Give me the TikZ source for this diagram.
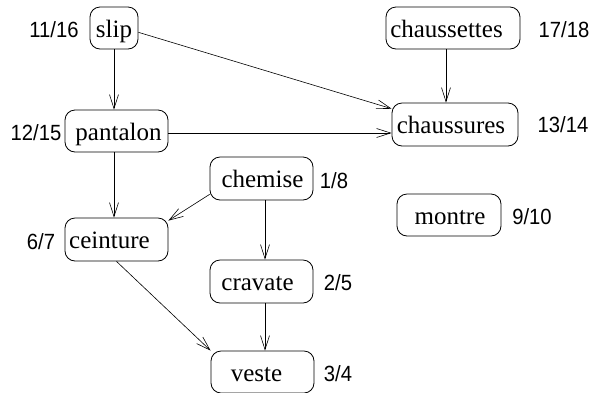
\documentclass[tikz,border=0pt]{standalone}
\usepackage{fontspec}
\setmainfont{Liberation Serif}
\newfontfamily\numfont{Liberation Sans}
\usetikzlibrary{arrows.meta}

\tikzset{
  garment/.style={draw, line width=0.8pt, rounded corners=10pt, inner sep=0pt},
  word/.style={font=\fontsize{25}{28}\selectfont, anchor=base, inner sep=0pt},
  stamp/.style={font=\numfont\fontsize{22}{25}\selectfont, anchor=base, inner sep=0pt},
  dep/.style={line width=0.6pt, -{Straight Barb[length=14pt, width=9pt, line width=0.6pt]}},
}
\newcommand{\narrow}[1]{\scalebox{0.92}[1]{#1}}

\begin{document}
\begin{tikzpicture}[x=1pt, y=-1pt]
  \useasboundingbox (0,0) rectangle (589,392);

  % boxes
  \node[garment, minimum width=48pt, minimum height=42pt]  (slip)        at (114,28)    {};
  \node[garment, minimum width=103pt, minimum height=42pt] (pantalon)    at (116.5,131) {};
  \node[garment, minimum width=134pt, minimum height=42pt] (chaussettes) at (453,28)    {};
  \node[garment, minimum width=126pt, minimum height=43pt] (chaussures)  at (455,124.5) {};
  \node[garment, minimum width=103pt, minimum height=43pt] (chemise)     at (261.5,178.5) {};
  \node[garment, minimum width=103pt, minimum height=43pt] (ceinture)    at (116.5,239.5) {};
  \node[garment, minimum width=103pt, minimum height=43pt] (cravate)     at (261.5,281.5) {};
  \node[garment, minimum width=103pt, minimum height=42pt] (veste)       at (262.5,372) {};
  \node[garment, minimum width=104pt, minimum height=42pt] (montre)      at (449,215)   {};

  % box texts
  \node[word] (t-slip)        at (114,37)     {slip};
  \node[word] (t-pantalon)    at (118.5,140)  {pantalon};
  \node[word] (t-chaussettes) at (446.5,37)   {chaussettes};
  \node[word] (t-chaussures)  at (451,133)    {chaussures};
  \node[word] (t-chemise)     at (262.5,187.5) {chemise};
  \node[word] (t-ceinture)    at (109.5,248.5) {ceinture};
  \node[word] (t-cravate)     at (257.5,290.5) {cravate};
  \node[word] (t-veste)       at (256.5,381)  {veste};
  \node[word] (t-montre)      at (450,224)    {montre};

  % discovery / finishing times
  \node[stamp] (n-slip)        at (54,37)   {\narrow{11/16}};
  \node[stamp] (n-pantalon)    at (36,140)  {\narrow{12/15}};
  \node[stamp] (n-chaussettes) at (564,37)  {\narrow{17/18}};
  \node[stamp] (n-chaussures)  at (563,132) {\narrow{13/14}};
  \node[stamp] (n-chemise)     at (334,188) {\narrow{1/8}};
  \node[stamp] (n-ceinture)    at (41,249)  {\narrow{6/7}};
  \node[stamp] (n-cravate)     at (338,290) {\narrow{2/5}};
  \node[stamp] (n-veste)       at (338,381) {\narrow{3/4}};
  \node[stamp] (n-montre)      at (532,224) {\narrow{9/10}};

  % dependencies
  \draw[dep] (slip.south) -- (slip.south |- pantalon.north);
  \draw[dep] (slip.-10) -- (chaussures.166);
  \draw[dep] ([xshift=-7pt]chaussettes.south) -- ([xshift=-7pt]chaussettes.south |- chaussures.north);
  \draw[dep] ([yshift=-2pt]pantalon.east) -- ([yshift=-2pt]pantalon.east -| chaussures.west);
  \draw[dep] (pantalon.south -| slip.south) -- (ceinture.north -| slip.south);
  \draw[dep] (chemise.197) -- (ceinture.20);
  \draw[dep] ([xshift=3.5pt]chemise.south) -- ([xshift=3.5pt]chemise.south |- cravate.north);
  \draw[dep] ([xshift=3.5pt]cravate.south) -- ([xshift=3.5pt]cravate.south |- veste.north);
  \draw[dep] (ceinture.south) -- (veste.north west);
\end{tikzpicture}
\end{document}
